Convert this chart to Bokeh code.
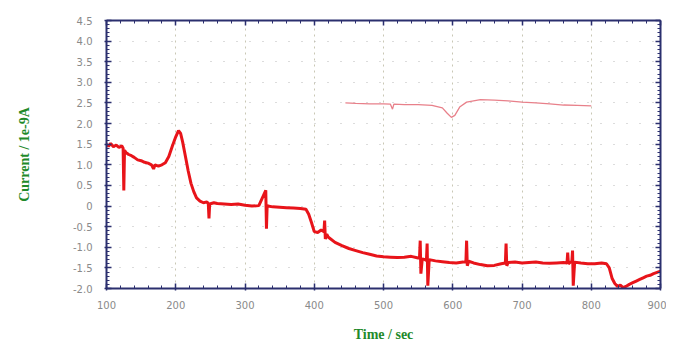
from bokeh.plotting import figure
from bokeh.models import LinearAxis, Range1d, FixedTicker
from bokeh.embed import file_html
from bokeh.resources import INLINE

# Main trace (time in s, current in 1e-9 A)
main_t = [100, 103, 106, 110, 114, 118, 122, 124, 125, 126, 128, 132, 136, 140, 145, 150,
          155, 160, 165, 168, 170, 175, 180, 185, 190, 195, 200, 204, 207, 210, 214, 218,
          222, 226, 230, 235, 240, 245, 247, 248, 249, 255, 260, 270, 280, 290, 300, 310,
          320, 330, 331, 332, 333, 340, 350, 360, 370, 380, 388, 392, 396, 400, 405, 410,
          414, 415, 416, 418, 420, 430, 440, 450, 460, 470, 480, 490, 500, 510, 520, 530,
          540, 550, 552, 553, 554, 556, 560, 562, 563, 564, 566, 575, 585, 595, 605, 615,
          619, 620, 621, 623, 630, 640, 650, 660, 670, 676, 677, 678, 680, 690, 700, 710,
          720, 730, 740, 750, 760, 765, 766, 767, 770, 772, 773, 774, 776, 785, 795, 805,
          815, 822, 826, 830, 834, 838, 842, 846, 850, 855, 860, 865, 870, 875, 880, 885,
          890, 895, 900]
main_i = [1.50, 1.45, 1.52, 1.44, 1.48, 1.42, 1.46, 1.40, 0.38, 1.35, 1.30, 1.25, 1.22, 1.18, 1.12, 1.10,
          1.06, 1.04, 1.00, 0.90, 1.00, 0.97, 1.00, 1.05, 1.20, 1.45, 1.68, 1.83, 1.76, 1.55, 1.20, 0.85,
          0.55, 0.35, 0.20, 0.12, 0.08, 0.10, 0.06, -0.30, 0.05, 0.08, 0.06, 0.05, 0.04, 0.05, 0.02, 0.00,
          0.01, 0.38, -0.55, 0.02, 0.00, -0.02, -0.03, -0.04, -0.05, -0.06, -0.08, -0.20, -0.40, -0.62, -0.64, -0.58,
          -0.62, -0.35, -0.80, -0.68, -0.75, -0.88, -0.96, -1.03, -1.08, -1.13, -1.17, -1.21, -1.23, -1.24, -1.25, -1.24,
          -1.22, -1.26, -1.25, -0.84, -1.64, -1.28, -1.30, -1.32, -0.91, -1.93, -1.30, -1.33, -1.35, -1.37, -1.38, -1.36,
          -1.35, -0.84, -1.45, -1.34, -1.38, -1.42, -1.45, -1.44, -1.40, -1.38, -0.91, -1.45, -1.37, -1.36, -1.38, -1.37,
          -1.36, -1.38, -1.39, -1.38, -1.37, -1.38, -1.13, -1.40, -1.36, -1.35, -1.08, -1.93, -1.36, -1.38, -1.40, -1.40,
          -1.38, -1.40, -1.50, -1.75, -1.88, -1.95, -1.92, -1.98, -1.95, -1.90, -1.86, -1.82, -1.78, -1.74, -1.70, -1.68,
          -1.64, -1.61, -1.58]

# Secondary (pink) trace
sub_t = [445, 460, 480, 500, 510, 513, 515, 530, 550, 570, 585, 592, 598, 603, 610, 620,
         640, 660, 680, 700, 720, 740, 760, 780, 800]
sub_i = [2.50, 2.49, 2.48, 2.48, 2.47, 2.35, 2.47, 2.46, 2.46, 2.44, 2.38, 2.25, 2.15, 2.20, 2.40, 2.52,
         2.58, 2.57, 2.55, 2.52, 2.50, 2.48, 2.45, 2.44, 2.43]

x_ticks = [100, 200, 300, 400, 500, 600, 700, 800, 900]
y_ticks = [-2.0, -1.5, -1.0, -0.5, 0.0, 0.5, 1.0, 1.5, 2.0, 2.5, 3.0, 3.5, 4.0, 4.5]
y_tick_labels = ["-2.0", "-1.5", "-1.0", "-0.5", "0", "0.5", "1.0", "1.5", "2.0", "2.5",
                 "3.0", "3.5", "4.0", "4.5"]

AXIS_COLOR = "#2b2f6e"
LABEL_GREEN = "#1f8a2a"

p = figure(frame_width=554, frame_height=268, output_backend="svg", toolbar_location=None,
           x_range=Range1d(100, 900), y_range=Range1d(-2.0, 4.5),
           min_border_left=106, min_border_top=20, min_border_right=6, min_border_bottom=49,
           background_fill_color="white", border_fill_color="white", outline_line_color=None)

p.line(main_t, main_i, line_color="#e8141a", line_width=3)
p.line(sub_t, sub_i, line_color="#e8808a", line_width=1.3)

# grids
p.xgrid.ticker = FixedTicker(ticks=x_ticks)
p.ygrid.ticker = FixedTicker(ticks=y_ticks)
p.xgrid.grid_line_color = "#c9c7b4"
p.xgrid.grid_line_dash = "2 4"
p.xgrid.grid_line_width = 1
p.ygrid.grid_line_color = "#b8b8b8"
p.ygrid.grid_line_dash = "1 12"
p.ygrid.grid_line_width = 1.2

def style_axis(ax):
    ax.axis_line_color = AXIS_COLOR
    ax.axis_line_width = 2
    ax.major_tick_line_color = AXIS_COLOR
    ax.minor_tick_line_color = AXIS_COLOR
    ax.major_tick_line_width = 1.5
    ax.major_tick_in = 5
    ax.major_tick_out = 2
    ax.minor_tick_in = 3
    ax.minor_tick_out = 0
    ax.major_label_text_color = "#8a8a8a"
    ax.major_label_text_font = "DejaVu Sans"
    ax.major_label_text_font_size = "10px"

xa = p.xaxis[0]
ya = p.yaxis[0]
xa.ticker = FixedTicker(ticks=x_ticks, minor_ticks=list(range(100, 901, 20)))
ya.ticker = FixedTicker(ticks=y_ticks, minor_ticks=[v / 10 for v in range(-20, 46, 1)])
ya.major_label_overrides = {v: s for v, s in zip(y_ticks, y_tick_labels)}
style_axis(xa)
style_axis(ya)
xa.major_label_standoff = 10
ya.major_label_standoff = 12

xa.axis_label = "Time / sec"
ya.axis_label = "Current / 1e-9A"
for ax in (xa, ya):
    ax.axis_label_text_color = LABEL_GREEN
    ax.axis_label_text_font = "Liberation Serif"
    ax.axis_label_text_font_style = "bold"
    ax.axis_label_text_font_size = "14px"
xa.axis_label_standoff = 15
ya.axis_label_standoff = 38

top = LinearAxis(ticker=FixedTicker(ticks=x_ticks, minor_ticks=list(range(100, 901, 20))))
right = LinearAxis(ticker=FixedTicker(ticks=y_ticks, minor_ticks=[v / 10 for v in range(-20, 46, 1)]))
for ax in (top, right):
    style_axis(ax)
    ax.major_tick_out = 0
    ax.major_label_text_font_size = "0px"
    ax.major_label_standoff = 0
top.major_label_overrides = {v: "" for v in x_ticks}
right.major_label_overrides = {v: "" for v in y_ticks}
p.add_layout(top, "above")
p.add_layout(right, "right")

open("out.html", "w").write(file_html(p, INLINE))
